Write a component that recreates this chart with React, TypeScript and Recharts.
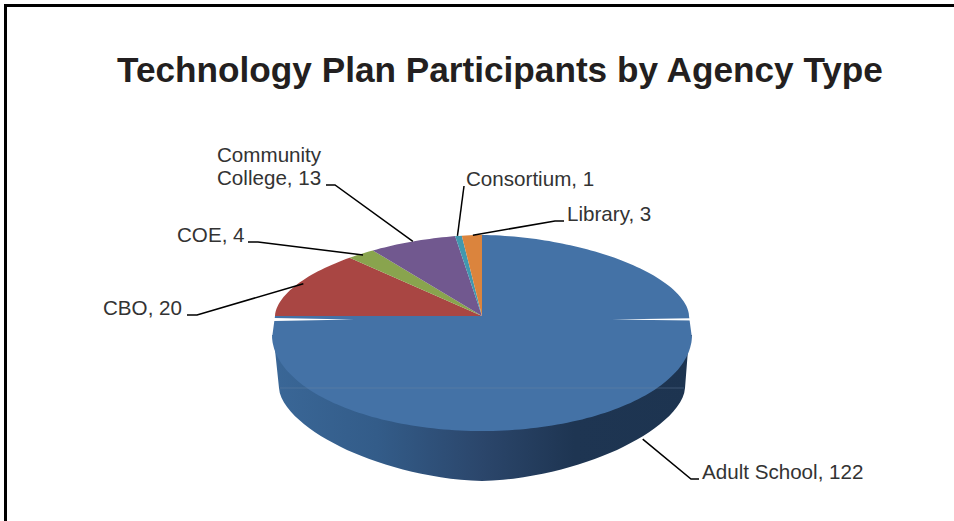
import { Pie, PieChart } from "recharts"

const categories = ["Adult School", "CBO", "COE", "Community College", "Consortium", "Library"]
const participants = [122, 20, 4, 13, 1, 3]
const sliceColors = ["#4472a6", "#a94643", "#89a44e", "#71588f", "#4198af", "#db843d"]

const chartData = categories.map((name, i) => ({ name, value: participants[i], fill: sliceColors[i] }))

// Where each caption sits; elbow is the x where its leader line turns flat
const labelLayout: Record<string, any> = {
  "Adult School": { x: 702, y: 479, elbow: 691, end: 699, nudge: [3, 1] },
  CBO: { x: 103, y: 315, elbow: 197, end: 187, nudge: [4, 1] },
  COE: { x: 177, y: 242, elbow: 258, end: 248, nudge: [2, 1] },
  "Community College": { x: 217, y: 185, elbow: 335, end: 326, wrap: true, nudge: [0, 0] },
  Consortium: { x: 466, y: 186, elbow: 464, end: 464, nudge: [-1, 0] },
  Library: { x: 567, y: 221, elbow: 555, end: 564, nudge: [1, 0] },
}

const CENTER_X = 482
const CENTER_Y = 316
const TOP_RX = 207
const TOP_RY = 81
const LOWER_RX = 210
const LOWER_RY = 96
const LOWER_DROP = 19 // centre of the front half of the disc sits below the back half
const RIM_RX = 203
const RIM_RY = 93
const RIM_DROP = 72
const TILT = 1.18 // foreshortening of slice angles on the back half

// Unit vector stretched out to a superellipse of exponent p, keeping its direction
function superRadius(c: number, s: number, p: number) {
  const r = Math.pow(Math.pow(Math.abs(c), p) + Math.pow(Math.abs(s), p), -1 / p)
  return [r * c, r * s]
}

function facePoint(cx: number, cy: number, deg: number) {
  const rad = (deg * Math.PI) / 180
  const s = Math.sin(rad)
  const c = Math.cos(rad)
  if (s > -1e-9) {
    const t = Math.atan2(TILT * Math.max(s, 0), c)
    const [ux, uy] = superRadius(Math.cos(t), Math.sin(t), 1.8)
    return [cx + TOP_RX * ux, cy - TOP_RY * uy]
  }
  return [cx + LOWER_RX * c, cy + LOWER_DROP + LOWER_RY * -s]
}

function rimPoint(cx: number, cy: number, deg: number) {
  const rad = (deg * Math.PI) / 180
  const [ux, uy] = superRadius(Math.cos(rad), -Math.sin(rad), 1.7)
  return [cx + RIM_RX * ux, cy + RIM_DROP + RIM_RY * uy]
}

const levelSeam = (a: number) => (Math.abs(a + 180) < 1 ? -180 : a)

const toPath = (pts: number[][]) =>
  pts.map((p, i) => `${i ? "L" : "M"}${p[0].toFixed(1)} ${p[1].toFixed(1)}`).join(" ") + " Z"

function FaceSlice(props: any) {
  const { cx, cy, fill, name } = props
  const start = levelSeam(props.startAngle)
  const end = levelSeam(props.endAngle)
  const steps = Math.max(2, Math.ceil(Math.abs(end - start) / 1.5))
  const pts: number[][] = [[cx, cy]]
  for (let i = 0; i <= steps; i++) pts.push(facePoint(cx, cy, start + ((end - start) * i) / steps))

  return (
    <g>
      <path d={toPath(pts)} fill={fill} stroke="none" />
      {name === "Adult School" && (
        <g>
          {/* hairline gaps where the two halves of the disc meet */}
          <path d={`M${cx - 208} ${cy + 2}L${cx - 128} ${cy + 3.4}L${cx - 208} ${cy + 5}Z`} fill="#fff" />
          <path d={`M${cx + 130} ${cy + 3.4}L${cx + 208} ${cy + 2.2}L${cx + 211} ${cy + 4.6}Z`} fill="#fff" />
          <line x1={cx - 202} x2={cx + 202} y1={cy + RIM_DROP} y2={cy + RIM_DROP} stroke="#6d87a6" strokeOpacity={0.4} />
        </g>
      )}
    </g>
  )
}

function RimSlice(props: any) {
  const { cx, cy, name } = props
  if (name !== "Adult School") return <g />
  const pts: number[][] = [[cx + LOWER_RX, cy + LOWER_DROP], [cx + 206, cy + 34], [cx + 203, cy + RIM_DROP]]
  for (let a = -3; a >= -177; a -= 3) pts.push(rimPoint(cx, cy, a))
  pts.push([cx - 203, cy + RIM_DROP], [cx - 207, cy + 34], [cx - LOWER_RX, cy + LOWER_DROP])
  return (
    <g>
      <defs>
        <linearGradient id="rimShade" x1="0" y1="0" x2="1" y2="0">
          <stop offset="0" stopColor="#3a6797" />
          <stop offset="0.25" stopColor="#335c89" />
          <stop offset="0.5" stopColor="#2b466b" />
          <stop offset="0.72" stopColor="#1e3552" />
          <stop offset="1" stopColor="#1d3450" />
        </linearGradient>
      </defs>
      <path d={toPath(pts)} fill="url(#rimShade)" stroke="none" />
    </g>
  )
}

function leaderTip(entry: any) {
  const layout = labelLayout[entry.name]
  const cx = entry.cx ?? CENTER_X
  const cy = entry.cy ?? CENTER_Y
  const tip =
    entry.name === "Adult School" ? rimPoint(cx, cy, entry.midAngle + 10) : facePoint(cx, cy, entry.midAngle)
  return [tip[0] + layout.nudge[0], tip[1] + layout.nudge[1]]
}

function LeaderLine(props: any) {
  const name = props.payload?.name ?? props.name
  const layout = labelLayout[name]
  const tip = leaderTip({ ...props, name })
  return (
    <polyline
      points={`${tip[0]},${tip[1]} ${layout.elbow},${layout.y} ${layout.end},${layout.y}`}
      fill="none"
      stroke="#000"
      strokeWidth={1.5}
    />
  )
}

function Caption(props: any) {
  const name = props.payload?.name ?? props.name
  const value = props.payload?.value ?? props.value
  const layout = labelLayout[name]
  const words = name.split(" ")
  const lines = layout.wrap ? [words[0], `${words.slice(1).join(" ")}, ${value}`] : [`${name}, ${value}`]
  return (
    <text fontFamily="Liberation Sans" fontSize={20.6} fill="#333">
      {lines.map((line: string, i: number) => (
        <tspan key={line} x={layout.x} y={layout.y - (lines.length - 1 - i) * 23}>
          {line}
        </tspan>
      ))}
    </text>
  )
}

export default function App() {
  return (
    <div style={{ position: "absolute", left: 0, top: 0, width: 954, height: 521, background: "#fff", overflow: "hidden" }}>
      <div
        style={{
          position: "absolute",
          left: 4,
          top: 4,
          width: 950,
          height: 517,
          boxSizing: "border-box",
          borderTop: "3px solid #000",
          borderLeft: "3px solid #000",
        }}
      />
      <div style={{ position: "absolute", left: 0, top: 0 }}>
        <PieChart width={954} height={521} margin={{ top: 0, right: 0, bottom: 0, left: 0 }}>
          <text x={500} y={82} textAnchor="middle" fontFamily="Liberation Sans" fontWeight="bold" fontSize={35.2} fill="#231f20">
            Technology Plan Participants by Agency Type
          </text>
          <Pie
            data={chartData}
            dataKey="value"
            nameKey="name"
            cx={CENTER_X}
            cy={CENTER_Y}
            outerRadius={TOP_RX}
            startAngle={90}
            endAngle={-270}
            stroke="none"
            isAnimationActive={false}
            label={false}
            labelLine={false}
            shape={RimSlice}
            inactiveShape={RimSlice}
          />
          <Pie
            data={chartData}
            dataKey="value"
            nameKey="name"
            cx={CENTER_X}
            cy={CENTER_Y}
            outerRadius={TOP_RX}
            startAngle={90}
            endAngle={-270}
            stroke="none"
            isAnimationActive={false}
            label={Caption}
            labelLine={LeaderLine}
            shape={FaceSlice}
            inactiveShape={FaceSlice}
          />
        </PieChart>
      </div>
    </div>
  )
}
